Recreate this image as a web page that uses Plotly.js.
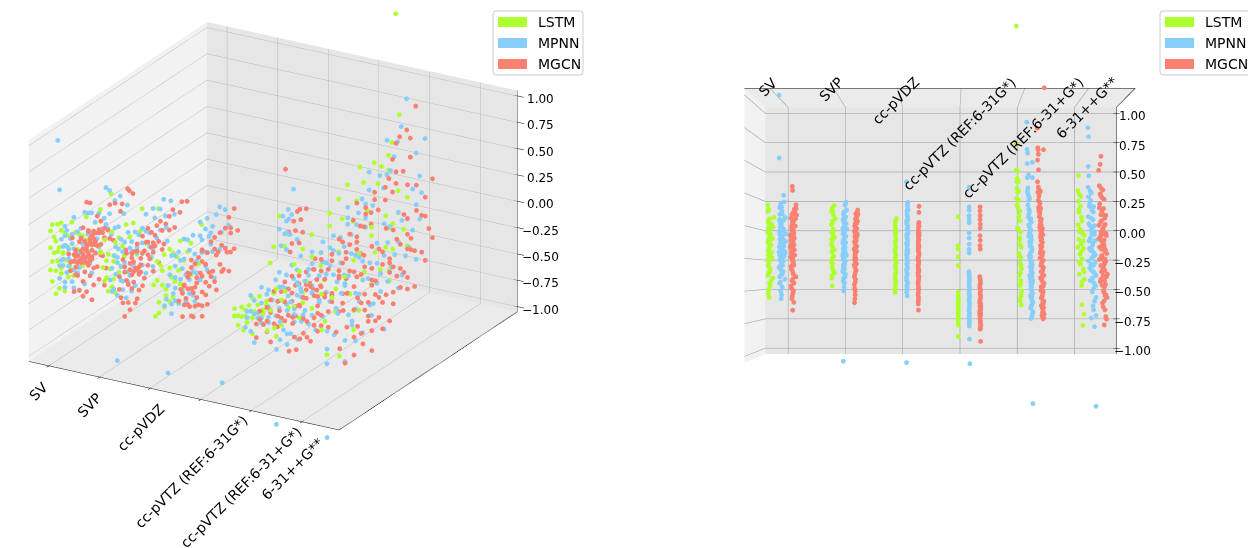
<!DOCTYPE html>
<html><head><meta charset="utf-8">
<script src="https://cdn.plot.ly/plotly-3.0.1.min.js"></script>
<style>html,body{margin:0;padding:0;background:#fff}#c{width:1248px;height:548px}</style>
</head><body><div id="c"></div>
<script>
const categories=['SV','SVP','cc-pVDZ','cc-pVTZ (REF:6-31G*)','cc-pVTZ (REF:6-31+G*)','6-31++G**'];
const models=['LSTM','MPNN','MGCN'];
const colors=['#ADFF2F','#87CEFA','#FA8072'];
const modelOffset=[-0.04,0.14,0.32];
const zTicks=[1,0.75,0.5,0.25,0,-0.25,-0.5,-0.75,-1];
const zTickText=['1.00','0.75','0.50','0.25','0.00','−0.25','−0.50','−0.75','−1.00'];

const z_SV_LSTM=[.16,.13,.11,.08,.05,.03,0,-.02,-.05,-.07,-.1,-.12,-.14,-.17,-.19,-.22,-.24,-.27,-.3,-.33,-.36,-.4,-.44,-.49,-.55,.0,-.1,-.2,.12,.06,.02,-.03,-.06,-.09,-.13,-.16,-.18,-.23,-.26,-.31,-.35,-.38,-.42,-.46,-.52];
const t_SV_LSTM=[.03,.06,.02,.36,.08,.04,.1,.05,.02,.13,.07,.04,.2,.09,.03,.06,.25,.11,.05,.15,.08,.3,.12,.07,.1,.3,.18,.22,.08,.14,.22,.11,.16,.27,.06,.12,.09,.17,.02,.08,.13,.03,.2,.15,.05];
const z_SV_MPNN=[1.0,.52,.2,.17,.14,.1,.07,.04,.02,-.01,-.03,-.06,-.08,-.11,-.13,-.16,-.18,-.21,-.23,-.26,-.29,-.32,-.35,-.38,-.41,-.44,-.47,-.5,-.53,-.56,-.1,-.2,-.3,-.05,.25,.15,.08,.05,.01,-.02,-.04,-.07,-.09,-.12,-.14,-.17,-.19,-.22,-.25,-.27,-.31,-.34,-.37,-.43,.05,.02,-.01,-.04,-.07,-.1,-.13,-.16,-.19,-.22,-.25,-.28,-.15,-.2,-.33,-.39,.12,.09];
const t_SV_MPNN=[.01,.02,.3,.1,.05,.2,.33,.03,.14,.08,.27,.06,.18,.38,.1,.04,.23,.13,.31,.07,.17,.02,.25,.12,.35,.05,.2,.1,.16,.13,.28,.35,.22,.4,.28,.16,.36,.24,.12,.3,.05,.09,.2,.26,.15,.11,.33,.08,.18,.24,.06,.13,.19,.09,.05,.09,.22,.04,.14,.07,.24,.03,.07,.04,.1,.15,.29,.02,.1,.05,.18,.06];
const z_SV_MGCN=[.31,.28,.15,.12,.09,.06,.04,.01,-.02,-.04,-.07,-.09,-.12,-.14,-.17,-.19,-.22,-.24,-.27,-.3,-.33,-.36,-.39,-.42,-.46,-.5,-.54,-.59,-.65,.18,.1,-.1,-.2,-.25,-.15,-.05,.14,.11,.07,.03,0,-.03,-.06,-.08,-.11,-.13,-.16,-.18,-.21,-.23,-.26,-.28,-.31,-.34,-.37,-.41,-.44,-.48,-.52,-.56,-.12,-.18,-.24,-.2,-.14,-.08,-.3,-.02,-.05,-.08,-.1,-.12,-.15,-.17,-.2,-.22,-.04,-.07,-.11,-.14,-.18,-.21,-.24,.02,-.01,-.06,-.09,-.13,-.16,-.19,-.23,-.26];
const t_SV_MGCN=[.12,.14,.36,.28,.1,.04,.2,.31,.08,.15,.02,.24,.12,.06,.18,.09,.27,.03,.14,.21,.07,.16,.34,.1,.05,.19,.12,.22,.15,.35,.38,.13,.07,.11,.17,.22,.25,.18,.32,.13,.09,.19,.14,.21,.05,.16,.1,.25,.07,.17,.12,.2,.06,.11,.18,.14,.23,.08,.16,.1,.17,.2,.15,.11,.22,.16,.13,.08,.11,.06,.14,.09,.12,.05,.08,.13,.17,.14,.1,.07,.15,.11,.06,.13,.16,.19,.12,.15,.03,.13,.09,.15];
const z_SVP_LSTM=[.17,.14,.11,.07,.04,.01,-.02,-.05,-.08,-.11,-.14,-.17,-.2,-.23,-.26,-.29,-.32,-.36,-.4,-.46,.12,.09,.02,-.03,-.06,-.1,-.15,-.18,-.24,-.28,-.34,-.38];
const t_SVP_LSTM=[.25,.08,.04,.34,.12,.02,.18,.06,.28,.1,.03,.15,.07,.22,.05,.12,.09,.3,.06,.1,.16,.2,.1,.24,.14,.05,.09,.27,.13,.04,.17,.08];
const z_SVP_MPNN=[.2,.17,.14,.11,.08,.05,.02,-.01,-.04,-.07,-.1,-.13,-.16,-.19,-.22,-.25,-.28,-.31,-.34,-.37,-.4,-.44,-.5,-1.04,.18,.13,.09,.06,.03,0,-.03,-.06,-.09,-.12,-.15,-.18,-.21,-.24,-.27,-.3,-.33,-.36,-.39,-.42,-.47,.07,.04,.01,-.02,-.05,-.08,-.11,-.14,-.17,-.2,-.23,-.26,-.29,-.32,-.35];
const t_SVP_MPNN=[.32,.22,.36,.12,.27,.05,.18,.38,.09,.3,.14,.03,.24,.1,.34,.07,.19,.13,.04,.26,.09,.16,.11,.06,.26,.3,.08,.2,.33,.14,.24,.06,.17,.28,.1,.2,.05,.15,.25,.08,.18,.12,.22,.06,.14,.16,.1,.22,.04,.13,.2,.06,.17,.08,.26,.02,.12,.2,.09,.03];
const z_SVP_MGCN=[.14,.11,.08,.05,.02,-.01,-.04,-.06,-.09,-.12,-.15,-.18,-.2,-.23,-.26,-.29,-.32,-.35,-.39,-.43,-.48,-.53,-.59,-.1,-.2,-.03,.12,.09,.06,.03,0,-.03,-.05,-.08,-.11,-.14,-.17,-.19,-.22,-.25,-.28,-.31,-.34,-.37,-.41,-.45,-.5,-.56,-.02,-.05,-.07,-.1,-.13,-.15,-.18,-.21,-.24,-.01,-.04,-.09,-.12,-.16,-.2,-.27,-.3,.04,.07,.1];
const t_SVP_MGCN=[.37,.4,.3,.36,.12,.22,.04,.33,.16,.08,.27,.02,.19,.12,.06,.24,.1,.16,.03,.13,.07,.11,.05,.2,.14,.1,.32,.25,.15,.28,.06,.18,.3,.09,.22,.14,.05,.26,.1,.18,.13,.07,.21,.09,.15,.04,.12,.08,.17,.12,.21,.15,.1,.18,.08,.13,.09,.26,.09,.24,.05,.21,.11,.14,.02,.2,.23,.18];
const z_DZ_LSTM=[.07,.04,0,-.04,-.08,-.12,-.16,-.2,-.24,-.28,-.32,-.36,-.4,-.44,-.48,-.51,.05,.02,-.02,-.06,-.1,-.14,-.18,-.22,-.26,-.3,-.34,-.38,-.42,-.46,-.5];
const t_DZ_LSTM=[.3,.12,.05,.24,.16,.08,.2,.03,.13,.28,.1,.18,.06,.14,.09,.04,.18,.09,.14,.07,.22,.12,.05,.17,.08,.15,.24,.1,.19,.12,.06];
const z_DZ_MPNN=[.34,.2,.17,.14,.1,.06,.03,0,-.03,-.07,-.1,-.13,-.17,-.2,-.24,-.27,-.3,-.34,-.37,-.41,-.44,-.48,-.51,-.54,-1.05,.18,.15,.12,.08,.04,.01,-.02,-.05,-.08,-.12,-.15,-.18,-.22,-.25,-.29,-.32,-.36,-.39,-.43,-.46,-.5,.09,.05,.02,-.01,-.06,-.09,-.14,-.19,-.23,-.28,-.33,-.38,-.42,-.47];
const t_DZ_MPNN=[.05,.35,.28,.38,.2,.31,.12,.25,.4,.15,.3,.07,.22,.35,.13,.27,.18,.05,.24,.1,.32,.16,.08,.21,.06,.24,.33,.15,.27,.08,.3,.18,.36,.1,.25,.14,.31,.06,.2,.1,.28,.14,.04,.18,.12,.16,.17,.24,.1,.29,.13,.21,.27,.1,.16,.22,.09,.14,.08,.2];
const z_DZ_MGCN=[.17,.12,.04,.01,-.02,-.06,-.09,-.12,-.15,-.18,-.21,-.24,-.27,-.3,-.33,-.36,-.39,-.42,-.45,-.49,-.53,-.57,-.6,-.65,.03,0,-.04,-.07,-.1,-.13,-.16,-.19,-.22,-.25,-.28,-.31,-.34,-.37,-.4,-.43,-.47,-.51,-.55,-.58,-.15,-.25,-.35,-.3,-.08,-.11,-.14,-.17,-.2,-.23,-.26,-.29,-.32,-.35,-.38,-.41,-.44,-.48,-.52,-.03,.02,-.05,-.27,-.33];
const t_DZ_MGCN=[.38,.35,.33,.36,.2,.4,.27,.14,.33,.22,.38,.1,.3,.17,.25,.07,.35,.2,.12,.28,.09,.23,.15,.2,.3,.25,.36,.18,.31,.2,.28,.12,.36,.17,.24,.09,.32,.15,.27,.1,.22,.16,.2,.14,.12,.1,.22,.12,.23,.16,.29,.13,.34,.19,.08,.26,.14,.31,.11,.24,.17,.13,.18,.2,.27,.14,.2,.16];
const z_G_LSTM=[.09,-.14,-.17,-.23,-.3,-.51,-.54,-.57,-.6,-.62,-.65,-.68,-.71,-.74,-.77,-.86,-.52,-.55,-.58,-.61,-.63,-.66,-.69,-.72,-.75,-.59,-.64,-.7];
const t_G_LSTM=[.45,.5,.42,.48,.4,.2,.24,.28,.22,.33,.26,.38,.3,.36,.25,.3,.3,.34,.2,.42,.24,.31,.22,.27,.34,.26,.38,.36];
const z_G_MPNN=[.33,.17,.14,.1,.07,.04,-.04,-.08,-.13,-.17,-.2,-.35,-.38,-.42,-.46,-.5,-.53,-.56,-.59,-.62,-.65,-.68,-.71,-.74,-.78,-.88,-1.06,-.37,-.4,-.44,-.48,-.52,-.55,-.58,-.6,-.63,-.66,-.69,-.72,-.75,-.76,-.41,-.47,-.51,-.54,-.57,-.61,-.64,-.67,-.7,-.73];
const t_G_MPNN=[.48,.45,.42,.47,.44,.4,.43,.46,.41,.5,.44,.52,.47,.38,.5,.33,.42,.24,.36,.28,.45,.21,.4,.3,.34,.26,.08,.4,.3,.44,.26,.48,.3,.5,.22,.34,.52,.3,.44,.24,.38,.24,.34,.4,.22,.44,.26,.4,.28,.5,.34];
const z_G_MGCN=[.17,.14,.1,.07,.03,0,-.06,-.1,-.14,-.17,-.39,-.42,-.46,-.5,-.53,-.56,-.59,-.62,-.65,-.68,-.71,-.74,-.77,-.81,-.9,-.41,-.44,-.48,-.51,-.54,-.57,-.6,-.63,-.66,-.69,-.72,-.75,-.79,-.6,-.7,-.45,-.49,-.52,-.55,-.58,-.61,-.64,-.67,-.7,-.73,-.76,-.78,-.8,-.62,-.68];
const t_G_MGCN=[.45,.5,.43,.47,.4,.44,.48,.42,.46,.41,.55,.38,.5,.3,.46,.34,.52,.24,.42,.28,.5,.36,.22,.44,.3,.42,.32,.54,.4,.24,.42,.3,.5,.35,.26,.44,.32,.38,.56,.56,.46,.36,.44,.28,.5,.38,.22,.54,.34,.46,.4,.28,.34,.3,.58];
const z_P_LSTM=[1.7,.72,.5,.47,.42,.38,.34,.3,.26,.22,.17,.13,.09,.05,.01,-.04,-.1,-.16,-.2,-.24,-.28,-.33,-.38,-.42,-.46,-.5,-.54,-.57,-.61,.4,.3,.2,.1,0,-.08,-.14,-.22,-.3,-.36,-.44,-.52,-.58];
const t_P_LSTM=[.82,.84,.8,.62,.7,.55,.74,.5,.78,.45,.6,.35,.52,.3,.66,.25,.4,.15,.5,.2,.32,.12,.42,.22,.3,.1,.18,.35,.15,.78,.64,.72,.45,.58,.35,.28,.4,.18,.3,.25,.14,.28];
const z_P_MPNN=[.9,.67,.63,.55,.5,.43,.38,.34,.3,.27,.23,.2,.14,.1,.06,.02,-.02,-.06,-.1,-.14,-.18,-.22,-.26,-.3,-.34,-.38,-.42,-.46,-.5,-.54,-.58,-.62,-.66,-.7,-.72,-1.37,.44,.32,.24,.16,.08,.04,0,-.04,-.08,-.12,-.16,-.2,-.24,-.28,-.32,-.36,-.4,-.44,-.48,-.52,-.56,-.6,-.64,-.68,.12,.07,.03,-.03,-.07,-.11,-.15,-.19,-.23,-.27,-.31,-.35,-.39,-.43,-.47,-.51,-.55,-.59];
const t_P_MPNN=[.83,.8,.72,.78,.17,.76,.16,.68,.72,.62,.58,.7,.5,.64,.42,.55,.35,.6,.28,.45,.22,.52,.38,.18,.3,.48,.12,.34,.25,.4,.16,.28,.1,.22,.32,.1,.62,.74,.5,.6,.5,.3,.46,.52,.42,.36,.28,.4,.46,.3,.24,.16,.44,.2,.34,.14,.3,.18,.36,.16,.56,.36,.6,.4,.3,.48,.38,.26,.34,.24,.42,.3,.2,.38,.26,.2,.24,.12];
const z_P_MGCN=[1.07,.85,.68,.66,.6,.58,.49,.35,.31,.27,.22,.18,.14,.1,.05,.01,-.03,-.07,-.12,-.16,-.2,-.24,-.28,-.32,-.36,-.4,-.44,-.48,-.52,-.56,-.6,-.64,-.68,-.72,.62,.4,.33,.29,.24,.2,.16,.12,.07,.03,-.01,-.05,-.09,-.14,-.18,-.22,-.26,-.3,-.34,-.38,-.42,-.46,-.5,-.54,-.58,-.62,-.66,-.7,-.2,-.3,-.4,-.5,.3,.15,.06,.02,-.02,-.06,-.1,-.15,-.19,-.23,-.27,-.31,-.35,-.39,-.43,-.47,-.51,-.55,-.59,-.63,-.67,-.71];
const t_P_MGCN=[.1,.83,.78,.74,.18,.8,.7,.72,.76,.66,.6,.7,.55,.62,.46,.58,.36,.5,.3,.44,.24,.54,.4,.18,.32,.5,.14,.36,.26,.42,.2,.3,.12,.24,.72,.8,.68,.6,.72,.55,.48,.58,.4,.54,.3,.46,.36,.5,.42,.32,.2,.4,.28,.14,.36,.2,.45,.3,.15,.4,.22,.34,.52,.46,.36,.28,.5,.66,.52,.42,.5,.26,.44,.34,.5,.4,.3,.26,.44,.32,.28,.42,.22,.34,.26,.18,.28,.16];
const z_D_LSTM=[.43,.31,.27,.22,.17,.13,.08,.03,-.01,-.05,-.09,-.13,-.17,-.21,-.25,-.29,-.33,-.37,-.41,-.46,-.61,-.68,-.77,.25,.15,.05,-.03,-.11,-.19,-.27,-.35,-.43,-.15,-.07];
const t_D_LSTM=[.55,.6,.48,.55,.4,.5,.33,.58,.42,.25,.52,.36,.18,.45,.28,.4,.2,.5,.12,.33,.3,.15,.22,.4,.52,.3,.48,.2,.35,.5,.14,.3,.6,.12];
const z_D_MPNN=[.83,.75,.51,.43,.34,.3,.26,.22,.18,.14,.1,.06,.02,-.02,-.06,-.1,-.14,-.18,-.22,-.26,-.3,-.34,-.38,-.42,-.44,-.51,-.55,-.62,-.69,-.72,-.78,-1.39,.28,.2,.12,.04,0,-.04,-.08,-.12,-.16,-.2,-.24,-.28,-.32,-.36,-.4,-.46,.16,.08,.01,-.05,-.11,-.17,-.23,-.29,-.35,-.41,-.48,-.58,-.65];
const t_D_MPNN=[.65,.6,.62,.58,.63,.5,.6,.45,.55,.38,.62,.3,.5,.42,.2,.56,.33,.46,.15,.6,.28,.4,.1,.5,.24,.35,.1,.3,.1,.42,.2,.1,.42,.52,.28,.58,.34,.2,.48,.3,.54,.26,.38,.16,.52,.22,.34,.14,.26,.44,.22,.38,.18,.4,.28,.44,.26,.36,.24,.2,.26];
const z_D_MGCN=[.58,.52,.35,.32,.28,.24,.2,.15,.11,.07,.03,-.01,-.05,-.09,-.13,-.17,-.21,-.25,-.29,-.33,-.37,-.41,-.45,-.51,-.55,-.6,-.65,-.72,-.77,.48,-.08,.3,.26,.22,.17,.13,.09,.05,.01,-.03,-.07,-.11,-.15,-.19,-.23,-.27,-.31,-.35,-.39,-.43,-.47,-.53,-.15,-.25,-.35,-.05,.1,.06,.02,-.02,-.06,-.1,-.14,-.18,-.22,-.26,-.3,-.34,-.38,-.42,-.46,-.5,-.54,-.58,-.63,-.7];
const t_D_MGCN=[.5,.55,.6,.48,.55,.42,.58,.34,.5,.26,.62,.4,.2,.54,.32,.46,.14,.6,.28,.38,.1,.5,.22,.32,.12,.4,.25,.15,.3,.64,.64,.38,.5,.3,.6,.44,.2,.52,.3,.5,.16,.42,.58,.26,.48,.2,.34,.42,.16,.54,.28,.2,.3,.24,.46,.4,.36,.46,.24,.36,.52,.3,.4,.22,.44,.32,.5,.26,.36,.28,.42,.34,.24,.3,.36,.2];

const zSeries=[[z_SV_LSTM,z_SV_MPNN,z_SV_MGCN],[z_SVP_LSTM,z_SVP_MPNN,z_SVP_MGCN],[z_DZ_LSTM,z_DZ_MPNN,z_DZ_MGCN],[z_G_LSTM,z_G_MPNN,z_G_MGCN],[z_P_LSTM,z_P_MPNN,z_P_MGCN],[z_D_LSTM,z_D_MPNN,z_D_MGCN]];
const tSeries=[[t_SV_LSTM,t_SV_MPNN,t_SV_MGCN],[t_SVP_LSTM,t_SVP_MPNN,t_SVP_MGCN],[t_DZ_LSTM,t_DZ_MPNN,t_DZ_MGCN],[t_G_LSTM,t_G_MPNN,t_G_MGCN],[t_P_LSTM,t_P_MPNN,t_P_MGCN],[t_D_LSTM,t_D_MPNN,t_D_MGCN]];

const xmin=-0.4,xmax=5.73,zmin=-1.05,zmax=1.05,t0=0,t1=1;
const W=1248,H=548;
const GRID='#a8a8a8';
const font='"DejaVu Sans",sans-serif';
const xv=2.836,zv=-0.378,backF=0.9225,frontF=1.027,flat=1.01;
const P=(x,z,f,y)=>[xv+(x-xv)*f,y,zv+(z-zv)*f];

function pane(scene,pts,color){
  return {type:'mesh3d',scene,x:pts.map(p=>p[0]),y:pts.map(p=>p[1]),z:pts.map(p=>p[2]),i:[0,0],j:[1,2],k:[2,3],
    color,flatshading:true,lighting:{ambient:1,diffuse:0,specular:0,fresnel:0,roughness:1},hoverinfo:'skip',showscale:false,opacity:1};
}
function lines(scene,segs,color,width){
  const x=[],y=[],z=[];
  segs.forEach(s=>{s.forEach(p=>{x.push(p[0]);y.push(p[1]);z.push(p[2]);});x.push(null);y.push(null);z.push(null);});
  return {type:'scatter3d',scene,mode:'lines',x,y,z,line:{color,width},hoverinfo:'skip',showlegend:false,connectgaps:false};
}
/* depthScaled: the head-on view has no perspective of its own, so near points spread from the vanishing point as the frame does */
function points(scene,depthScaled){
  return models.map((name,m)=>{
    const x=[],y=[],z=[];
    categories.forEach((c,k)=>{
      const zs=zSeries[k][m],ts=tSeries[k][m];
      const n=Math.min(zs.length,ts.length);
      for(let i=0;i<n;i++){
        const X=k+modelOffset[m];
        const p=depthScaled?P(X,zs[i],frontF+(backF-frontF)*ts[i],ts[i]):[X,ts[i],zs[i]];
        x.push(p[0]);y.push(p[1]);z.push(p[2]);
      }
    });
    return {type:'scatter3d',scene,name,mode:'markers',x,y,z,marker:{size:2.8,color:colors[m],opacity:1,line:{width:0}},showlegend:false,hoverinfo:'skip'};
  });
}
const leftFrame=[
  pane('scene',[[xmin,t0,zmin],[xmin,t1,zmin],[xmin,t1,zmax],[xmin,t0,zmax]],'#f2f2f2'),
  pane('scene',[[xmin,t1,zmin],[xmax,t1,zmin],[xmax,t1,zmax],[xmin,t1,zmax]],'#e6e6e6'),
  pane('scene',[[xmin,t0,zmin],[xmax,t0,zmin],[xmax,t1,zmin],[xmin,t1,zmin]],'#ebebeb'),
  lines('scene',[].concat(
    zTicks.map(z=>[[xmin,t0,z],[xmin,t1,z],[xmax,t1,z]]),
    categories.map((c,k)=>[[k,t0,zmin],[k,t1,zmin],[k,t1,zmax]])
  ),GRID,1.3),
  lines('scene',[].concat(
    [[[xmin,t0,zmin],[xmax,t0,zmin],[xmax,t1,zmin],[xmax,t1,zmax]]],
    zTicks.map(z=>[[xmax-0.07,t1,z],[xmax+0.13,t1,z]]),
    categories.map((c,k)=>[[k,t0-0.012,zmin],[k,t0+0.012,zmin]])
  ),'#000000',1)
];

const b=(x,z)=>P(x,z,backF,flat), f=(x,z)=>P(x,z,frontF,flat);
const bl=(x,z)=>P(x,z,backF,1), fl=(x,z)=>P(x,z,frontF,1);
const rightTraces=[
  pane('scene2',[b(xmin,zmin),b(xmax,zmin),b(xmax,zmax),b(xmin,zmax)],'#e6e6e6'),
  pane('scene2',[f(xmin,zmin),b(xmin,zmin),b(xmin,zmax),f(xmin,zmax)],'#f2f2f2'),
  pane('scene2',[b(xmin,zmax),b(xmax,zmax),f(xmax,zmax),f(xmin,zmax)],'#ebebeb'),
  lines('scene2',[].concat(
    zTicks.map(z=>[fl(xmin,z),bl(xmin,z),bl(xmax,z)]),
    categories.map((c,k)=>[bl(k,zmin),bl(k,zmax),fl(k,zmax)])
  ),GRID,1.3),
  lines('scene2',[].concat(
    [[fl(xmin,zmax),fl(xmax,zmax),bl(xmax,zmax),bl(xmax,zmin)]],
    zTicks.map(z=>[bl(xmax-0.05,z),bl(xmax+0.06,z)])
  ),'#000000',1)
].concat(points('scene2',true));

const hidden=r=>({visible:false,range:r,showspikes:false,autorange:false});
const LC=0.004407, RC=0.00441;
const xr=[2.665-6,2.665+6], tr=[-1,2], zr=[-2.5,2.5];
const el=22.5*Math.PI/180, az=-60*Math.PI/180, D=2;
const eyeL={x:D*Math.cos(el)*Math.cos(az),y:D*Math.cos(el)*Math.sin(az),z:D*Math.sin(el)};
const lift=0.0476;

const annL=[], annR=[];
categories.forEach((c,k)=>{
  annL.push({x:k,y:t0,z:zmin,text:c,textangle:-45,showarrow:false,xanchor:'center',yanchor:'top',xshift:-10,yshift:-10,font:{family:font,size:14,color:'#000'}});
  const p=fl(k,zmax);
  annR.push({x:p[0],y:p[1],z:p[2],text:c,textangle:-45,showarrow:false,xanchor:'center',yanchor:'top',xshift:-2,yshift:17,font:{family:font,size:14,color:'#000'}});
});
zTicks.forEach((z,i)=>{
  annL.push({x:xmax,y:t1,z,text:zTickText[i],showarrow:false,xanchor:'center',yanchor:'middle',xshift:23,yshift:-3,font:{family:font,size:12,color:'#000'}});
  const p=bl(xmax,z);
  annR.push({x:p[0],y:p[1],z:p[2],text:zTickText[i],showarrow:false,xanchor:'center',yanchor:'middle',xshift:16,yshift:-3,font:{family:font,size:12,color:'#000'}});
});

const legendAt=[[493,583],[1160,1252]];
const rowY=[22,43,64];
const shapes=[],paperAnn=[];
const px=v=>v/W, py=v=>1-v/H;
const roundRect=(x0,x1,y0,y1,r)=>`M${px(x0+r)},${py(y0)}L${px(x1-r)},${py(y0)}Q${px(x1)},${py(y0)} ${px(x1)},${py(y0+r)}L${px(x1)},${py(y1-r)}Q${px(x1)},${py(y1)} ${px(x1-r)},${py(y1)}L${px(x0+r)},${py(y1)}Q${px(x0)},${py(y1)} ${px(x0)},${py(y1-r)}L${px(x0)},${py(y0+r)}Q${px(x0)},${py(y0)} ${px(x0+r)},${py(y0)}Z`;
legendAt.forEach(L=>{
  shapes.push({type:'path',xref:'paper',yref:'paper',path:roundRect(L[0],L[1],11,75,3),line:{color:'#cccccc',width:1},fillcolor:'rgba(255,255,255,0.8)'});
  models.forEach((m,i)=>{
    shapes.push({type:'rect',xref:'paper',yref:'paper',x0:px(L[0]+5),x1:px(L[0]+34),y0:py(rowY[i]-5),y1:py(rowY[i]+5),line:{width:0},fillcolor:colors[i]});
    paperAnn.push({xref:'paper',yref:'paper',x:px(L[0]+43),y:py(rowY[i]),text:m,showarrow:false,xanchor:'left',yanchor:'middle',font:{family:font,size:14,color:'#000'}});
  });
});

const leftScene=(extra,shift)=>Object.assign({domain:{x:[0,546/W],y:[1-452/H,1]},bgcolor:'rgba(0,0,0,0)',
    xaxis:hidden(xr),yaxis:hidden(tr),zaxis:hidden(zr),
    aspectmode:'manual',aspectratio:{x:12*58.7*LC,y:3*358*LC,z:5*114.5*LC},
    camera:{up:{x:0,y:0,z:1},center:{x:0,y:0,z:-shift},projection:{type:'orthographic'},
      eye:{x:eyeL.x,y:eyeL.y,z:eyeL.z-shift}}},extra);
const layout={
  width:W,height:H,margin:{l:0,r:0,t:0,b:0},paper_bgcolor:'#fff',showlegend:false,
  scene:leftScene({annotations:annL},0),
  scene2:{domain:{x:[632/W,1],y:[1-454/H,1]},bgcolor:'rgba(0,0,0,0)',
    xaxis:hidden(xr),yaxis:hidden(tr),zaxis:hidden(zr),
    aspectmode:'manual',aspectratio:{x:12*62*RC,y:3*100*RC,z:5*127.2*RC},
    camera:{up:{x:0,y:0,z:1},center:{x:0,y:0,z:0},projection:{type:'orthographic'},eye:{x:0,y:-D,z:0}},
    annotations:annR},
  scene3:leftScene({},lift),
  shapes,annotations:paperAnn
};
Plotly.newPlot('c',leftFrame.concat(rightTraces,points('scene3',false)),layout,{displayModeBar:false});
</script></body></html>
